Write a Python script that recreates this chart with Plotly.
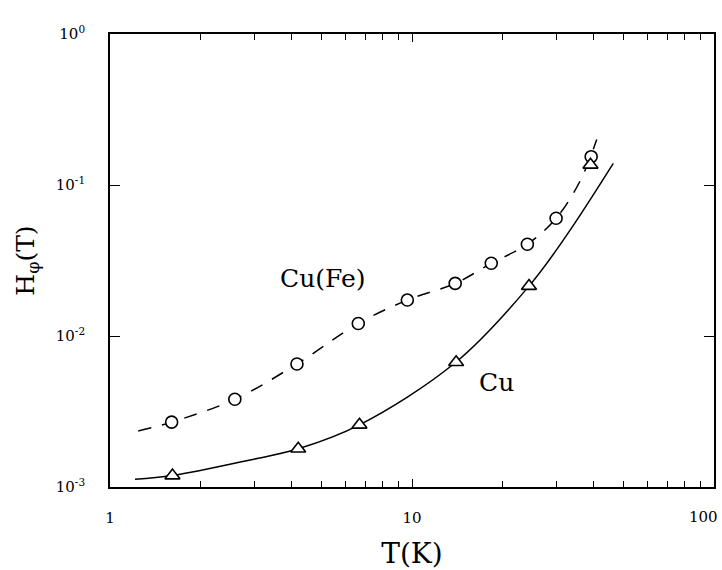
import plotly.graph_objects as go

# Data
cufe_T = [1.60, 2.59, 4.16, 6.64, 9.65, 13.9, 18.3, 24.1, 30.0, 39.2]
cufe_H = [0.00269, 0.00381, 0.00653, 0.0121, 0.0173, 0.0223, 0.0303, 0.0405, 0.0602, 0.154]

cu_T = [1.61, 4.20, 6.70, 14.0, 24.4, 39.0]
cu_H = [0.00119, 0.00179, 0.00258, 0.0067, 0.0214, 0.136]

# fitted curves
cufe_fit_T = [1.24, 1.60, 2.59, 4.16, 6.64, 9.65, 13.9, 18.3, 24.1, 30.0, 36.0, 40.9]
cufe_fit_H = [0.00235, 0.00269, 0.00381, 0.00653, 0.0121, 0.0173, 0.0223, 0.0303, 0.0405, 0.0602, 0.106, 0.200]

cu_fit_T = [1.21, 1.61, 2.91, 4.20, 6.70, 13.96, 24.4, 32.4, 46.4]
cu_fit_H = [0.001125, 0.00119, 0.00151, 0.00179, 0.00258, 0.0067, 0.0214, 0.046, 0.139]

x_tickvals = [1, 10, 100]
x_ticktext = ["1", "10", ""]
x_last_label = "100"
x_minor = [2, 3, 4, 5, 6, 7, 8, 9, 20, 30, 40, 50, 60, 70, 80, 90]
y_tickvals = [0.001, 0.01, 0.1, 1]
y_ticktext = ["10<sup>-3</sup>", "10<sup>-2</sup>", "10<sup>-1</sup>", "10<sup>0</sup>"]

FONT = "DejaVu Serif"

fig = go.Figure()
fig.add_trace(go.Scatter(x=cufe_fit_T, y=cufe_fit_H, mode="lines",
                         line=dict(color="black", width=1.5, dash="13px,11px", shape="spline", smoothing=1),
                         showlegend=False, hoverinfo="skip"))
fig.add_trace(go.Scatter(x=cu_fit_T, y=cu_fit_H, mode="lines",
                         line=dict(color="black", width=1.5, shape="spline", smoothing=1),
                         showlegend=False, hoverinfo="skip"))
fig.add_trace(go.Scatter(x=cufe_T, y=cufe_H, mode="markers", name="Cu(Fe)",
                         marker=dict(symbol="circle", size=12, color="white",
                                     line=dict(color="black", width=1.6)),
                         showlegend=False))
fig.add_trace(go.Scatter(x=cu_T, y=cu_H, mode="markers", name="Cu",
                         marker=dict(symbol="triangle-up", size=13, color="white",
                                     line=dict(color="black", width=1.6)),
                         showlegend=False))

fig.add_annotation(x=0.705, y=-1.616, xref="x", yref="y", text="Cu(Fe)", showarrow=False,
                   font=dict(family=FONT, size=25, color="black"))
fig.add_annotation(x=1.281, y=-2.311, xref="x", yref="y", text="Cu", showarrow=False,
                   font=dict(family=FONT, size=25, color="black"))
# last x tick label, kept inside the page edge
fig.add_annotation(x=2, y=0, xref="x", yref="paper", text=x_last_label, showarrow=False,
                   xanchor="right", yanchor="middle", xshift=6, yshift=-30,
                   font=dict(family=FONT, size=15, color="black"))

fig.update_xaxes(type="log", range=[0, 2], tickvals=x_tickvals, ticktext=x_ticktext,
                 ticks="inside", ticklen=8, tickwidth=1.2, tickcolor="black",
                 minor=dict(tickvals=x_minor, ticks="inside", ticklen=6, tickwidth=1.2, tickcolor="black"),
                 showline=True, linecolor="black", linewidth=1.8, mirror="ticks",
                 showgrid=False, zeroline=False, ticklabelstandoff=16, automargin=False,
                 tickfont=dict(family=FONT, size=15, color="black"),
                 title=dict(text="T(K)", font=dict(family=FONT, size=28, color="black"), standoff=22))
fig.update_yaxes(type="log", range=[-3, 0], tickvals=y_tickvals, ticktext=y_ticktext,
                 ticks="inside", ticklen=10, tickwidth=1.2, tickcolor="black",
                 showline=True, linecolor="black", linewidth=1.8, mirror="ticks",
                 showgrid=False, zeroline=False, ticklabelstandoff=20, automargin=False,
                 ticklabeloverflow="allow",
                 tickfont=dict(family=FONT, size=15, color="black"),
                 title=dict(text="H<sub>φ</sub>(T)", font=dict(family=FONT, size=25, color="black"), standoff=14))

fig.update_layout(width=722, height=570, plot_bgcolor="white", paper_bgcolor="white",
                  font=dict(family=FONT, color="black"),
                  margin=dict(l=110, r=8, t=34, b=83), showlegend=False)

fig.write_html("out.html", config={"displayModeBar": False},
               post_script="document.body.style.margin='0';")
